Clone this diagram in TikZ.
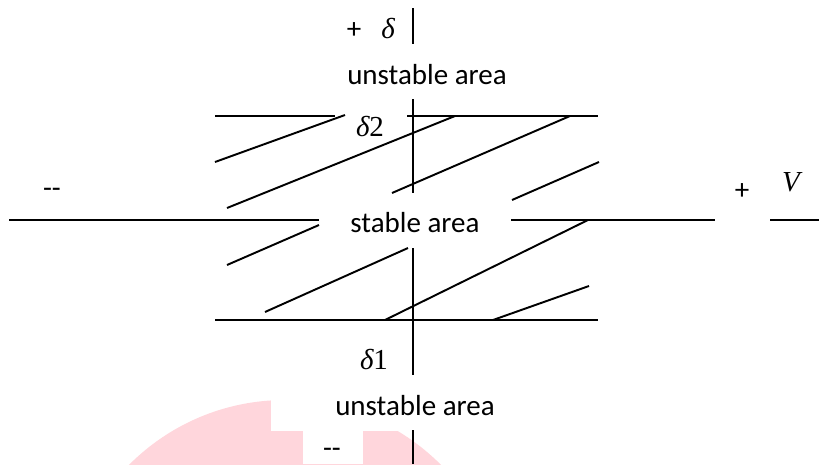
\documentclass[tikz,border=0pt]{standalone}
\usepackage{fontspec}
\setmainfont{Carlito}
\newfontfamily\symfont{Liberation Serif}
\usetikzlibrary{calc}
\definecolor{markC}{RGB}{255,214,220}
\definecolor{inkC}{RGB}{0,0,0}

\begin{document}
\begin{tikzpicture}[x=0.02cm,y=-0.02cm,line width=1.1pt,inkC,
  lbl/.style={inner sep=0pt,font=\fontsize{16.5}{20}\selectfont},
  sym/.style={inner sep=0pt,font=\fontsize{16.5}{20}\selectfont\symfont}]
  \useasboundingbox (0,0) rectangle (819,464);
  % faint mark behind the lower labels
  \begin{scope}
    \clip (0,0) rectangle (819,464);
    \fill[markC] (285,620) circle (220);
  \end{scope}
  \fill[white] (271,380) rectangle (420,431);
  \fill[white] (303,431) rectangle (363,464);
  % axes, broken where the labels sit
  \draw (9,220) -- (319,220);
  \draw (511,220) -- (715,220);
  \draw (770,220) -- (819,220);
  \foreach \ya/\yb in {8/44,99/193,248/375,430/464}
    \draw (413,\ya) -- (413,\yb);
  % band limits
  \draw (215,116) -- (335,116);
  \draw (407,116) -- (598,116);
  \draw (215,320) -- (598,320);
  % hatching of the stable band
  \foreach \xa/\ya/\xb/\yb in {215/162/345/115, 227/208/455/116, 392/193/570/116,
      512/200/599/162, 227/265/319/225, 265/312/408/248, 385/320/588/220,
      493/320/589/286}
    \draw (\xa,\ya) -- (\xb,\yb);
  % labels
  \node[lbl] (plusT) at (354,31) {+};
  \node[sym] (deltaT) at (388,29) {\itshape δ};
  \node[lbl] (unstT) at (427,75) {unstable area};
  \node[sym] (dTwo) at (370,127) {{\itshape δ}2};
  \node[lbl] (minusL) at (52,193) {-{}-};
  \node[lbl] (stable) at (415,223) {stable area};
  \node[lbl] (plusR) at (742,192) {+};
  \node[sym] (volt) at (791,182) {\itshape V};
  \node[sym] (dOne) at (374,360) {{\itshape δ}1};
  \node[lbl] (unstB) at (415,406) {unstable area};
  \node[lbl] (minusB) at (332,453) {-{}-};
\end{tikzpicture}
\end{document}
